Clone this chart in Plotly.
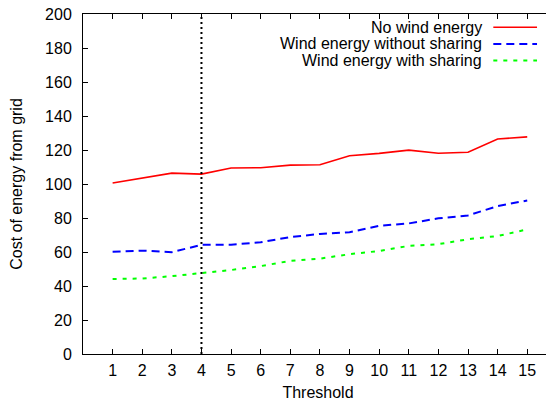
import plotly.graph_objects as go

thresholds = list(range(1, 16))
no_wind = [100.6, 103.3, 106.4, 105.8, 109.4, 109.6, 111.1, 111.3, 116.6, 118.0, 119.9, 118.1, 118.7, 126.5, 127.7]
wind_no_share = [60.2, 60.8, 59.9, 64.2, 64.3, 65.7, 68.8, 70.6, 71.6, 75.4, 76.8, 79.8, 81.5, 87.0, 90.3]
wind_share = [44.1, 44.4, 45.8, 47.6, 49.4, 51.7, 54.8, 56.1, 58.7, 60.6, 63.6, 64.6, 67.5, 69.4, 73.3]
series_names = ["No wind energy", "Wind energy without sharing", "Wind energy with sharing"]
marker_threshold = 4
y_ticks = list(range(0, 201, 20))

FONT = "Liberation Sans, Arial, sans-serif"
FS = 16
colors = ["#ff0000", "#0000ff", "#00ff00"]
dashes = ["solid", "8px,5px", "4px,6px"]
widths = [1.6, 2.0, 2.0]

fig = go.Figure()
for vals, c, d, w in zip([no_wind, wind_no_share, wind_share], colors, dashes, widths):
    fig.add_trace(go.Scatter(x=thresholds, y=vals, mode="lines",
                             line=dict(color=c, dash=d, width=w), showlegend=False))

fig.add_trace(go.Scatter(x=[marker_threshold, marker_threshold], y=[y_ticks[0], y_ticks[-1]],
                         mode="lines", line=dict(color="black", dash="2px,3px", width=2),
                         showlegend=False))

# gnuplot-style legend: text right-aligned, sample on the right
leg_y = [0.961, 0.912, 0.863]
for name, c, d, w, yy in zip(series_names, colors, dashes, widths, leg_y):
    fig.add_annotation(x=0.853, y=yy, xref="paper", yref="paper", text=name,
                       showarrow=False, xanchor="right", yanchor="middle",
                       font=dict(family=FONT, size=FS, color="black"))
    fig.add_shape(type="line", xref="paper", yref="paper", x0=0.873, x1=0.966, y0=yy, y1=yy,
                  line=dict(color=c, dash=d, width=w))

axis_common = dict(showline=True, linecolor="black", linewidth=1, mirror="ticks",
                   ticks="inside", ticklen=5, tickcolor="black", tickwidth=1,
                   showgrid=False, zeroline=False, automargin=False,
                   ticklabeloverflow="allow",
                   tickfont=dict(family=FONT, size=FS, color="black"))

fig.update_xaxes(range=[0, 15.87], tickvals=thresholds, ticktext=[str(t) for t in thresholds],
                 ticklabelstandoff=2,
                 title=dict(text="Threshold", font=dict(family=FONT, size=FS, color="black"), standoff=14),
                 **axis_common)
fig.update_yaxes(range=[0, 200], tickvals=y_ticks, ticklabelstandoff=7,
                 title=dict(text="Cost of energy from grid", font=dict(family=FONT, size=FS, color="black"), standoff=19),
                 **axis_common)

# page body has an 8px default margin, so the figure is sized to fit the 554x401 window
fig.update_layout(width=546, height=393, margin=dict(l=75, r=1, t=6, b=47),
                  plot_bgcolor="white", paper_bgcolor="white",
                  font=dict(family=FONT, size=FS, color="black"))

fig.write_html("out.html")
